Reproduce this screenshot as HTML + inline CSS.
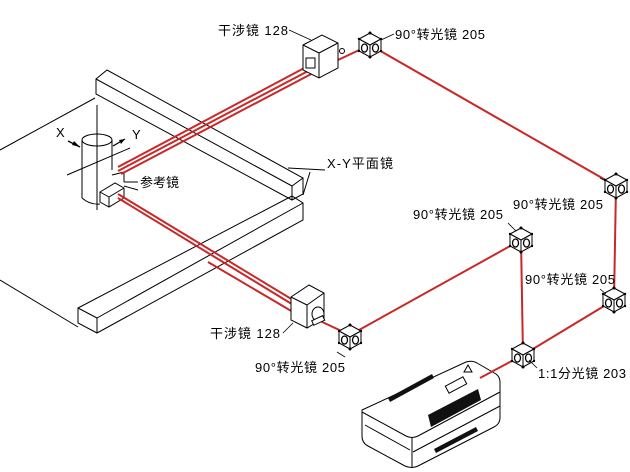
<!DOCTYPE html>
<html><head><meta charset="utf-8"><style>
html,body{margin:0;padding:0;background:#fff;}
svg{display:block;}
text{font-family:"Liberation Sans","Noto Sans CJK SC",sans-serif;font-size:13px;fill:#000;}
</style></head><body>
<svg width="630" height="472" viewBox="0 0 630 472" xmlns="http://www.w3.org/2000/svg">
<defs>
<g id="cube">
<polygon points="0,-12 11,-6 0,0 -11,-6" fill="#fff" stroke="#000" stroke-width="1"/>
<polygon points="-11,-6 0,0 0,12 -11,6" fill="#fff" stroke="#000" stroke-width="1"/>
<polygon points="11,-6 0,0 0,12 11,6" fill="#fff" stroke="#000" stroke-width="1"/>
<ellipse cx="-5.5" cy="3" rx="3" ry="4" fill="none" stroke="#000" stroke-width="1.3"/>
<ellipse cx="5.5" cy="3" rx="3" ry="4" fill="none" stroke="#000" stroke-width="1.3"/>
<circle cx="0" cy="-12" r="1.5"/><circle cx="0" cy="12" r="1.5"/><circle cx="-11" cy="-6" r="1.2"/><circle cx="11" cy="-6" r="1.2"/><circle cx="-11" cy="6" r="1.2"/><circle cx="11" cy="6" r="1.2"/>
</g>
</defs>
<g fill="none" stroke="#000" stroke-width="1">
<line x1="0" y1="150" x2="95" y2="98"/>
<line x1="0" y1="280" x2="78" y2="327"/>
<polygon points="96,79 107,70 303,178 303,194 292,200 96,94"/>
<line x1="96" y1="79" x2="292" y2="186"/><line x1="292" y1="186" x2="303" y2="178"/><line x1="292" y1="186" x2="292" y2="200"/>
<polygon points="78,308 292,196 303,203 303,220 97,333 78,323"/>
<line x1="78" y1="308" x2="97" y2="318"/><line x1="97" y1="318" x2="303" y2="203"/><line x1="97" y1="318" x2="97" y2="333"/>
<line x1="288" y1="168" x2="325" y2="170"/><line x1="310" y1="172" x2="303" y2="195"/>
<ellipse cx="97" cy="140" rx="15" ry="6" fill="#fff"/>
<line x1="82" y1="140" x2="82" y2="198"/><line x1="112" y1="140" x2="112" y2="170"/>
<path d="M82,198 Q90,205 100,204"/>
<line x1="97" y1="105" x2="97" y2="210"/>
<line x1="67" y1="175" x2="130" y2="148"/>
<polygon points="100,192 115,183 124,188 124,198 109,207 100,202" fill="#fff"/>
<line x1="100" y1="192" x2="109" y2="197"/><line x1="109" y1="197" x2="124" y2="188"/><line x1="109" y1="197" x2="109" y2="207"/>
<polyline points="112,175 124,172 124,182"/>
<line x1="124" y1="182" x2="138" y2="182"/><line x1="124" y1="186" x2="138" y2="190"/>
<!-- laser box -->
<path d="M362,410 L466,362 Q472,360 477,363 L496,374 Q500,377 500,382 L500,418 Q500,424 494,427 L418,466 Q412,469 405,466 L368,446 Q362,443 362,436 Z" fill="#fff"/>
<path d="M362,412 L406,436 Q412,439 418,436 L500,392"/>
<line x1="412" y1="438" x2="412" y2="467"/>
<line x1="413" y1="452" x2="500" y2="406"/>
<line x1="365" y1="425" x2="410" y2="450"/>
</g>
<g stroke="#000" stroke-width="1.3">
<line x1="68" y1="141" x2="80" y2="147"/><line x1="113" y1="146" x2="125" y2="139"/>
</g>
<polygon points="80,147 74,141 72,145" fill="#000"/><polygon points="125,139 119,140 121,144" fill="#000"/>
<text x="56" y="137" font-size="13">X</text><text x="132" y="139" font-size="13">Y</text>
<polygon points="388,398 432,374 434,378 390,402" fill="#111"/>
<polygon points="428,415 478,389 481,400 431,427" fill="#111"/>
<polygon points="434,449 476,427 478,431 436,453" fill="#111"/>
<rect x="446" y="381" width="20" height="8" fill="#fff" stroke="#000" transform="rotate(-28 456 385)"/>
<polygon points="464,372 468,365 472,372" fill="none" stroke="#000"/>
<g stroke="#c82828" stroke-width="2" fill="none">
<line x1="118" y1="167" x2="308" y2="66"/><line x1="118" y1="171" x2="310" y2="70"/><line x1="121" y1="174" x2="315" y2="72"/>
<line x1="118" y1="198" x2="295" y2="306"/><line x1="118" y1="194" x2="293" y2="300"/>
<line x1="208" y1="262" x2="293" y2="312"/>
<polyline points="338,60 370,45 616,186 614,300 523,355 521,240 350,335 318,320"/>
<line x1="523" y1="355" x2="480" y2="378"/>
</g>
<g fill="#fff" stroke="#000" stroke-width="1">
<polygon points="303,45 322,35 338,43 338,68 319,78 303,70"/>
<line x1="303" y1="45" x2="319" y2="53"/><line x1="319" y1="53" x2="338" y2="43"/><line x1="319" y1="53" x2="319" y2="78"/>
<rect x="306" y="58" width="9" height="10"/>
<circle cx="342" cy="51" r="2.5"/>
<polygon points="291,297 309,285 324,293 324,318 307,328 291,320"/>
<line x1="291" y1="297" x2="307" y2="305"/><line x1="307" y1="305" x2="324" y2="293"/><line x1="307" y1="305" x2="307" y2="328"/>
<ellipse cx="318" cy="314" rx="6" ry="7"/>
<rect x="312" y="318" width="12" height="5" transform="rotate(-25 318 320)"/>
</g>
<use href="#cube" x="370" y="45"/>
<use href="#cube" x="616" y="186"/>
<use href="#cube" x="521" y="240"/>
<use href="#cube" x="614" y="300"/>
<use href="#cube" x="523" y="355"/>
<use href="#cube" x="350" y="337"/>
<g stroke="#000" stroke-width="0.8">
<line x1="289" y1="30" x2="311" y2="40"/>
<line x1="381" y1="40" x2="394" y2="34"/>
<line x1="600" y1="178" x2="606" y2="181"/>
<line x1="508" y1="223" x2="516" y2="231"/>
<line x1="600" y1="289" x2="606" y2="294"/>
<line x1="529" y1="360" x2="537" y2="368"/>
<line x1="283" y1="333" x2="293" y2="323"/>
<line x1="345" y1="357" x2="337" y2="352"/>
</g>
<text x="218" y="35" textLength="70">干涉镜 128</text>
<text x="395" y="39" textLength="90">90°转光镜 205</text>
<text x="513" y="209" textLength="90">90°转光镜 205</text>
<text x="413" y="219" textLength="90">90°转光镜 205</text>
<text x="525" y="284" textLength="90">90°转光镜 205</text>
<text x="538" y="378" textLength="88">1:1分光镜 203</text>
<text x="210" y="338" textLength="70">干涉镜 128</text>
<text x="255" y="372" textLength="90">90°转光镜 205</text>
<text x="140" y="187">参考镜</text>
<text x="327" y="168" textLength="66">X-Y平面镜</text>
</svg>
</body></html>
